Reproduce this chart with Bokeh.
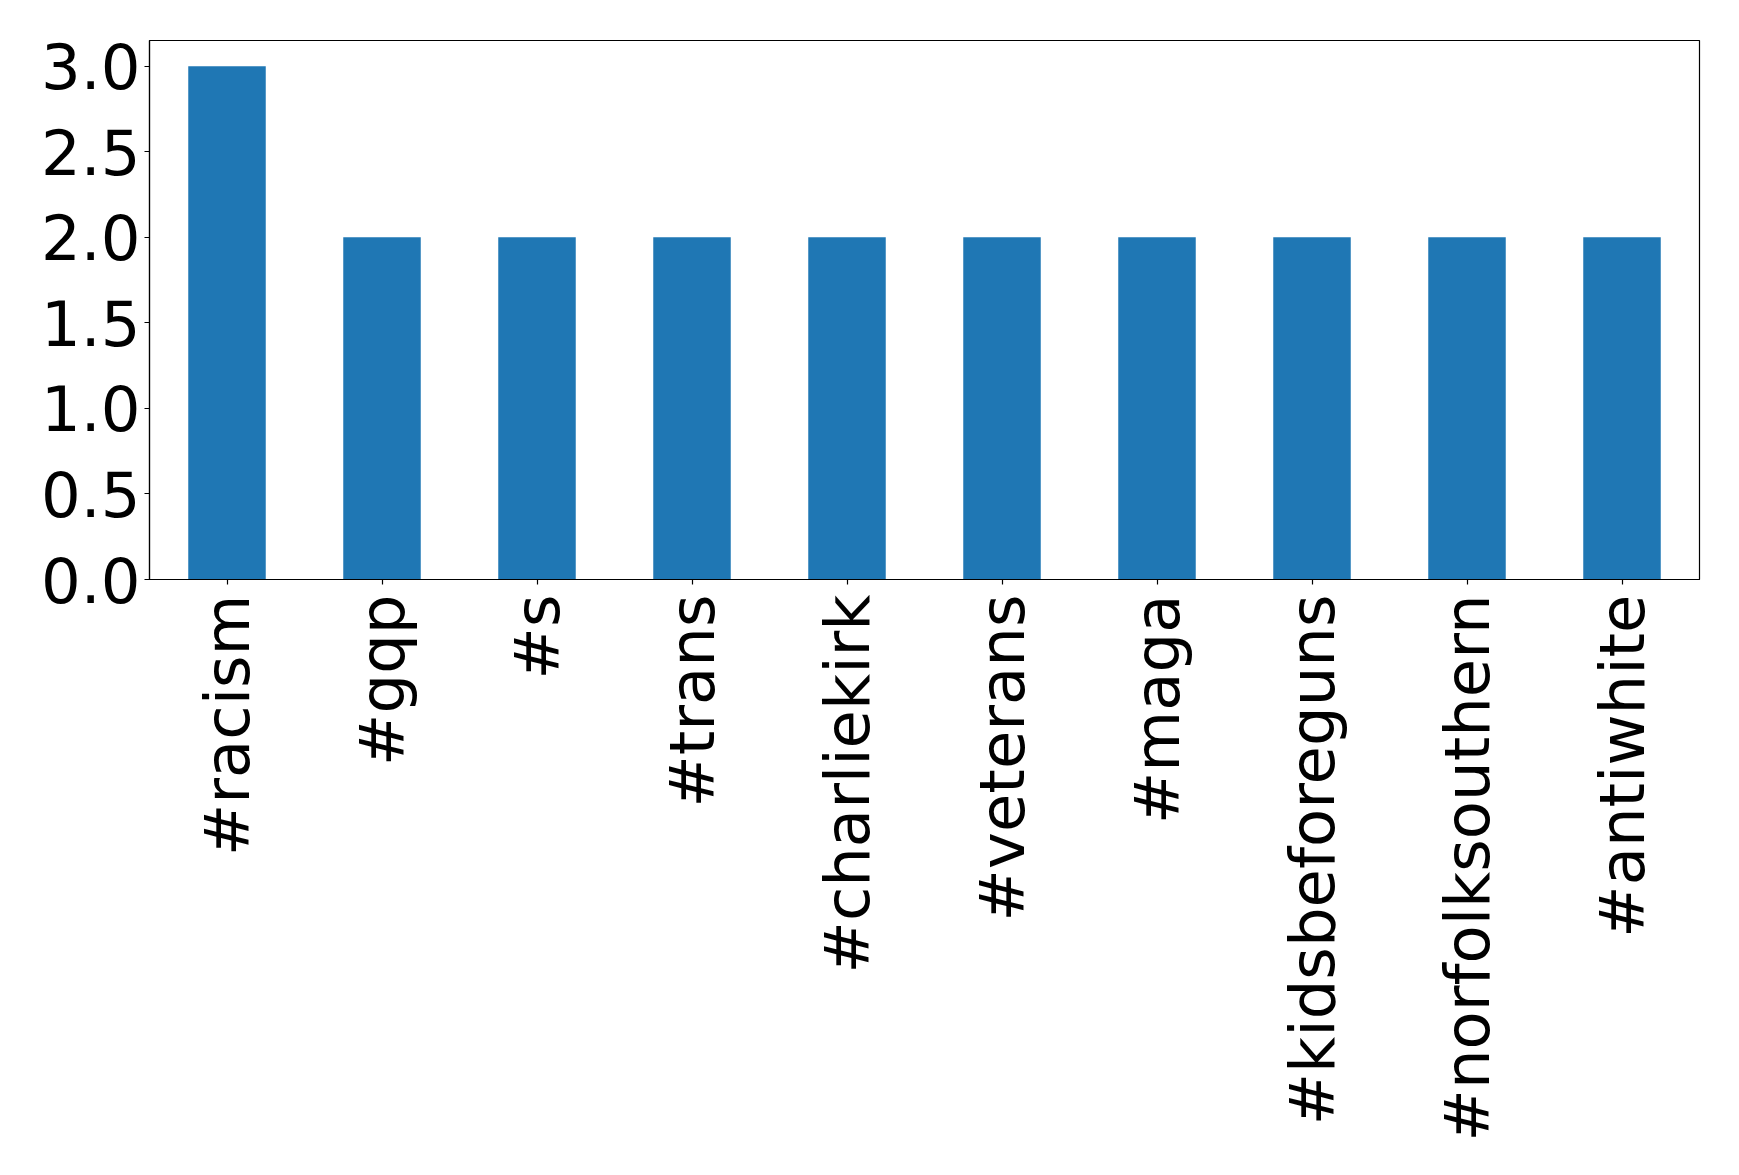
from bokeh.plotting import figure
from bokeh.models import FactorRange, Range1d, FixedTicker, NumeralTickFormatter, ColumnDataSource
from bokeh.embed import file_html
from bokeh.resources import INLINE
import math

hashtags = ["#racism", "#gqp", "#s", "#trans", "#charliekirk", "#veterans",
            "#maga", "#kidsbeforeguns", "#norfolksouthern", "#antiwhite"]
counts = [3, 2, 2, 2, 2, 2, 2, 2, 2, 2]
y_ticks = [0.0, 0.5, 1.0, 1.5, 2.0, 2.5, 3.0]

src = ColumnDataSource(dict(tag=hashtags, count=counts))

p = figure(width=1723, height=1159,
           x_range=FactorRange(factors=hashtags, range_padding=0),
           y_range=Range1d(0, 3.15),
           output_backend="svg", toolbar_location=None,
           min_border_left=149, min_border_right=24,
           min_border_top=40, min_border_bottom=580)

p.vbar(x="tag", top="count", width=0.5, source=src, color="#1f77b4", line_color=None)

p.xgrid.visible = False
p.ygrid.visible = False
p.outline_line_color = "black"
p.outline_line_width = 1.2
p.background_fill_color = "white"
p.border_fill_color = "white"

for ax in (p.xaxis[0], p.yaxis[0]):
    ax.major_label_text_font = "DejaVu Sans"
    ax.major_label_text_font_size = "62.5px"
    ax.major_label_text_color = "black"
    ax.axis_line_color = "black"
    ax.axis_line_width = 1.2
    ax.major_tick_line_color = "black"
    ax.major_tick_line_width = 1.2
    ax.major_tick_out = 5
    ax.major_tick_in = 0
    ax.minor_tick_line_color = None

p.yaxis[0].ticker = FixedTicker(ticks=y_ticks)
p.yaxis[0].formatter = NumeralTickFormatter(format="0.0")
p.yaxis[0].major_label_standoff = 4
p.xaxis[0].major_label_orientation = math.pi / 2
p.xaxis[0].major_label_standoff = 10

open("out.html", "w").write(file_html(p, INLINE))
